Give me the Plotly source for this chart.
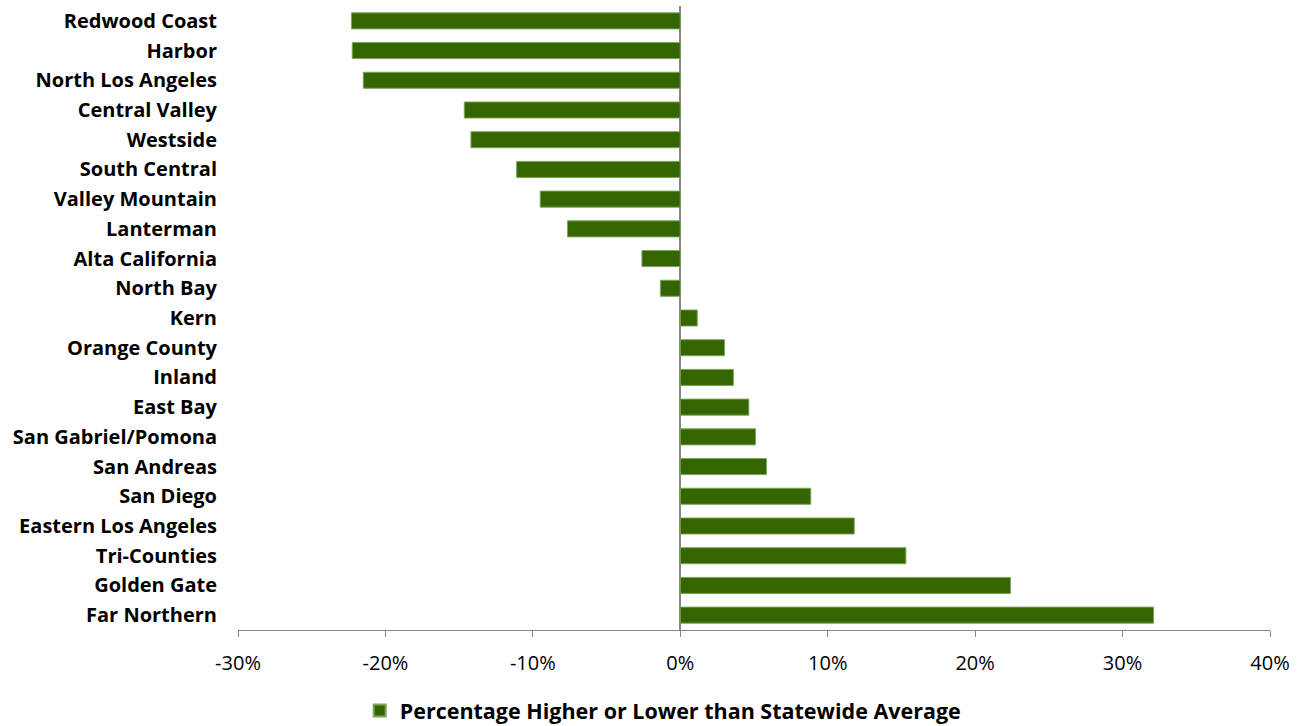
import plotly.graph_objects as go

categories = ["Redwood Coast", "Harbor", "North Los Angeles", "Central Valley", "Westside",
              "South Central", "Valley Mountain", "Lanterman", "Alta California", "North Bay",
              "Kern", "Orange County", "Inland", "East Bay", "San Gabriel/Pomona",
              "San Andreas", "San Diego", "Eastern Los Angeles", "Tri-Counties",
              "Golden Gate", "Far Northern"]
values = [-22.3, -22.25, -21.5, -14.65, -14.2, -11.1, -9.5, -7.65, -2.6, -1.35,
          1.15, 3.0, 3.6, 4.65, 5.1, 5.85, 8.85, 11.8, 15.3, 22.4, 32.1]
tick_vals = [-30, -20, -10, 0, 10, 20, 30, 40]
tick_text = ["-30%", "-20%", "-10%", "0%", "10%", "20%", "30%", "40%"]
series_name = "Percentage Higher or Lower than Statewide Average"

fig = go.Figure()
fig.add_trace(go.Bar(
    y=categories, x=values, orientation="h", name=series_name,
    marker=dict(color="#336600", line=dict(color="#7fa35a", width=1)),
    showlegend=True,
))

fig.update_layout(
    width=1304, height=726,
    margin=dict(l=238, r=34, t=6, b=96, autoexpand=False),
    paper_bgcolor="white", plot_bgcolor="white",
    bargap=0.46,
    font=dict(family="Open Sans", color="#000000"),
    legend=dict(orientation="h", x=0.412, xanchor="center", y=-0.096, yanchor="top",
                font=dict(family="Open Sans", size=21.5, color="#000000", weight="bold"),
                itemsizing="constant"),
    xaxis=dict(range=[-30, 40], tickvals=tick_vals, ticktext=tick_text,
               showgrid=False, zeroline=True, zerolinecolor="#868686", zerolinewidth=2,
               showline=True, linecolor="#868686", linewidth=1,
               ticks="outside", ticklen=6, tickcolor="#868686",
               ticklabelstandoff=9,
               tickfont=dict(family="Open Sans", size=20, color="#000000")),
    yaxis=dict(autorange="reversed", showgrid=False, showline=False, ticks="",
               ticklabelstandoff=20,
               tickfont=dict(family="Open Sans", size=20, color="#000000", weight="bold")),
)

fig.write_html("out.html")
